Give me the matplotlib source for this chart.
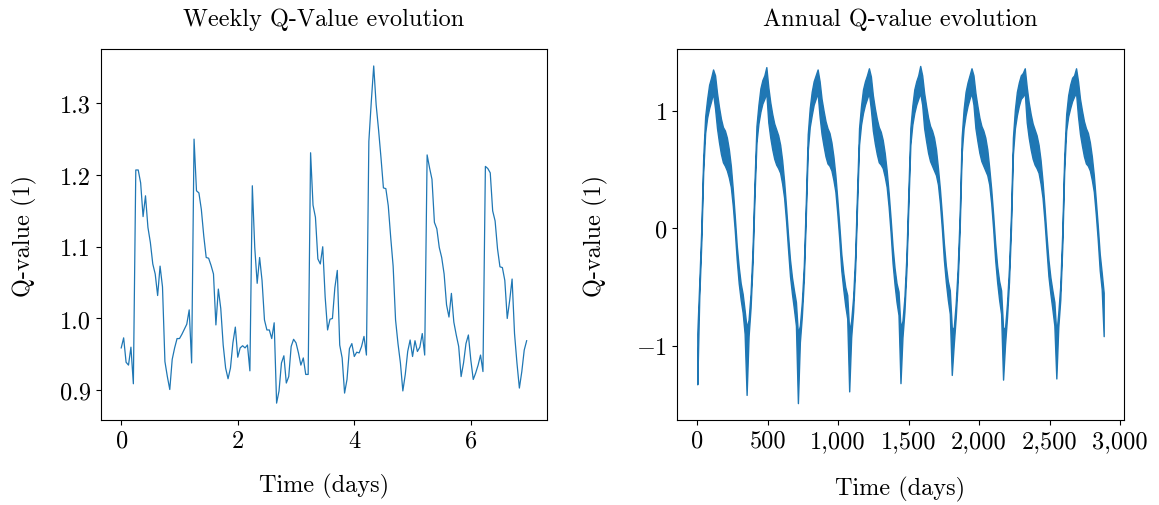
import matplotlib
matplotlib.use("Agg")
import matplotlib.pyplot as plt
import matplotlib.ticker as mticker
import numpy as np

plt.rcParams['font.family'] = 'serif'
plt.rcParams['font.serif'] = ['cmr10']
plt.rcParams['mathtext.fontset'] = 'cm'
plt.rcParams['axes.formatter.use_mathtext'] = True
plt.rcParams['font.size'] = 17.5
plt.rcParams['axes.titlesize'] = 17.5

# weekly series, hourly values (7 days x 24 h)
week_q = [
    0.959, 0.973, 0.939, 0.935, 0.960, 0.909, 1.207, 1.207, 1.189, 1.142, 1.171, 1.127,
    1.106, 1.076, 1.062, 1.032, 1.073, 1.044, 0.940, 0.919, 0.901, 0.943, 0.959, 0.972,
    0.972, 0.978, 0.985, 0.992, 1.012, 0.938, 1.250, 1.178, 1.175, 1.152, 1.115, 1.085,
    1.084, 1.074, 1.062, 0.991, 1.041, 1.014, 0.963, 0.931, 0.916, 0.931, 0.966, 0.988,
    0.946, 0.959, 0.962, 0.959, 0.963, 0.927, 1.185, 1.099, 1.049, 1.085, 1.053, 0.998,
    0.984, 0.984, 0.972, 0.994, 0.882, 0.899, 0.938, 0.948, 0.910, 0.919, 0.961, 0.971,
    0.966, 0.952, 0.935, 0.945, 0.922, 0.922, 1.231, 1.158, 1.141, 1.083, 1.076, 1.100,
    1.030, 0.984, 0.999, 1.000, 1.043, 1.067, 0.963, 0.945, 0.896, 0.915, 0.958, 0.965,
    0.947, 0.953, 0.952, 0.961, 0.975, 0.949, 1.247, 1.302, 1.352, 1.298, 1.263, 1.224,
    1.182, 1.181, 1.157, 1.113, 1.073, 0.998, 0.965, 0.938, 0.899, 0.922, 0.954, 0.970,
    0.947, 0.969, 0.954, 0.960, 0.979, 0.949, 1.228, 1.210, 1.194, 1.134, 1.125, 1.099,
    1.085, 1.062, 1.019, 1.002, 1.035, 0.995, 0.977, 0.961, 0.919, 0.938, 0.965, 0.977,
    0.942, 0.915, 0.924, 0.935, 0.949, 0.926, 1.212, 1.209, 1.203, 1.150, 1.136, 1.097,
    1.072, 1.071, 1.053, 1.000, 1.025, 1.055, 0.979, 0.938, 0.903, 0.926, 0.956, 0.969,
]
week_t = np.arange(len(week_q)) / 24

# annual series, read every 14 days: upper and lower edge of the noisy band
year_hi = [
    -0.90, -0.47, -0.02, 0.60, 0.95, 1.10, 1.22, 1.28, 1.35, 1.30, 1.15, 1.03, 0.93,
    0.86, 0.83, 0.77, 0.67, 0.53, 0.33, 0.10, -0.15, -0.33, -0.47, -0.56, -0.70, -0.85,
    -0.78, -0.56, -0.19, 0.39, 0.87, 1.05, 1.19, 1.26, 1.30, 1.37, 1.20, 1.07, 0.97,
    0.89, 0.84, 0.79, 0.71, 0.58, 0.40, 0.18, -0.06, -0.27, -0.42, -0.53, -0.63, -0.90,
    -0.83, -0.63, -0.32, 0.21, 0.80, 1.02, 1.16, 1.25, 1.30, 1.35, 1.25, 1.10, 1.00,
    0.91, 0.85, 0.81, 0.73, 0.61, 0.45, 0.24, 0.02, -0.22, -0.38, -0.50, -0.57, -0.88,
    -0.79, -0.59, -0.24, 0.31, 0.85, 1.04, 1.18, 1.25, 1.30, 1.36, 1.29, 1.13, 1.02,
    0.93, 0.86, 0.82, 0.75, 0.64, 0.49, 0.30, 0.08, -0.16, -0.34, -0.47, -0.54, -0.85,
    -0.79, -0.59, -0.24, 0.31, 0.85, 1.04, 1.18, 1.25, 1.30, 1.38, 1.30, 1.15, 1.04,
    0.94, 0.87, 0.83, 0.77, 0.67, 0.51, 0.33, 0.11, -0.13, -0.32, -0.45, -0.53, -0.85,
    -0.85, -0.64, -0.34, 0.11, 0.77, 1.01, 1.16, 1.24, 1.30, 1.36, 1.30, 1.15, 1.04,
    0.94, 0.87, 0.83, 0.77, 0.67, 0.51, 0.33, 0.11, -0.13, -0.32, -0.45, -0.53, -0.85,
    -0.85, -0.64, -0.34, 0.11, 0.77, 1.01, 1.16, 1.24, 1.30, 1.32, 1.36, 1.20, 1.07,
    0.97, 0.89, 0.84, 0.79, 0.71, 0.58, 0.40, 0.18, -0.06, -0.27, -0.42, -0.53, -0.63,
    -0.90, -0.72, -0.49, -0.04, 0.61, 0.97, 1.13, 1.22, 1.28, 1.30, 1.36, 1.25, 1.10,
    1.00, 0.91, 0.85, 0.81, 0.73, 0.61, 0.45, 0.24, 0.02, -0.22, -0.38, -0.55,
]
year_lo = [
    -1.33, -0.59, -0.14, 0.48, 0.81, 0.94, 1.02, 1.08, 1.15, 1.02, 0.85, 0.73, 0.63,
    0.56, 0.53, 0.49, 0.43, 0.35, 0.19, -0.02, -0.27, -0.47, -0.61, -0.72, -0.90, -1.42,
    -0.92, -0.68, -0.31, 0.27, 0.73, 0.89, 0.99, 1.06, 1.10, 1.15, 0.90, 0.77, 0.67,
    0.59, 0.54, 0.51, 0.47, 0.38, 0.26, 0.06, -0.18, -0.41, -0.56, -0.69, -0.83, -1.49,
    -0.97, -0.75, -0.44, 0.09, 0.66, 0.86, 0.96, 1.05, 1.10, 1.15, 0.95, 0.80, 0.70,
    0.61, 0.55, 0.53, 0.49, 0.41, 0.31, 0.12, -0.10, -0.36, -0.52, -0.66, -0.77, -1.39,
    -0.93, -0.71, -0.36, 0.19, 0.71, 0.88, 0.98, 1.05, 1.10, 1.15, 1.01, 0.83, 0.72,
    0.63, 0.56, 0.54, 0.51, 0.44, 0.35, 0.18, -0.04, -0.30, -0.48, -0.63, -0.74, -1.32,
    -0.93, -0.71, -0.36, 0.19, 0.71, 0.88, 0.98, 1.05, 1.10, 1.15, 1.05, 0.85, 0.74,
    0.64, 0.57, 0.53, 0.49, 0.45, 0.37, 0.21, -0.01, -0.27, -0.46, -0.61, -0.73, -1.25,
    -0.99, -0.76, -0.46, -0.01, 0.63, 0.85, 0.96, 1.04, 1.10, 1.15, 1.05, 0.85, 0.74,
    0.64, 0.57, 0.53, 0.49, 0.45, 0.37, 0.21, -0.01, -0.27, -0.46, -0.61, -0.73, -1.29,
    -0.99, -0.76, -0.46, -0.01, 0.63, 0.85, 0.96, 1.04, 1.10, 1.12, 1.15, 0.90, 0.77,
    0.67, 0.59, 0.54, 0.51, 0.47, 0.38, 0.26, 0.06, -0.18, -0.41, -0.56, -0.69, -0.83,
    -1.28, -0.84, -0.61, -0.16, 0.49, 0.83, 0.95, 1.02, 1.08, 1.12, 1.15, 0.95, 0.80,
    0.70, 0.61, 0.55, 0.53, 0.49, 0.41, 0.31, 0.12, -0.10, -0.36, -0.52, -0.92,
]
year_t = np.arange(len(year_hi)) * 14

blue = '#1f77b4'

fig = plt.figure(figsize=(11.59, 5.06), dpi=100)
ax1 = fig.add_axes([0.0871, 0.168, 0.3848, 0.733])
ax2 = fig.add_axes([0.5841, 0.168, 0.3857, 0.733])

ax1.plot(week_t, week_q, color=blue, lw=0.9)
ax1.set_title('Weekly Q-Value evolution', pad=17)
ax1.set_xlabel('Time (days)', labelpad=15)
ax1.set_ylabel('Q-value (1)', labelpad=17)
ax1.set_yticks([0.9, 1.0, 1.1, 1.2, 1.3])
ax1.yaxis.set_major_formatter(mticker.FormatStrFormatter('%.1f'))

ax2.fill_between(year_t, year_lo, year_hi, color=blue, lw=1.0)
ax2.set_title('Annual Q-value evolution', pad=17)
ax2.set_xlabel('Time (days)', labelpad=17)
ax2.set_ylabel('Q-value (1)', labelpad=20)
ax2.set_xticks([0, 500, 1000, 1500, 2000, 2500, 3000])
ax2.xaxis.set_major_formatter(mticker.StrMethodFormatter('{x:,.0f}'))
ax2.set_yticks([-1, 0, 1])

fig.savefig('out.png', dpi=100)
